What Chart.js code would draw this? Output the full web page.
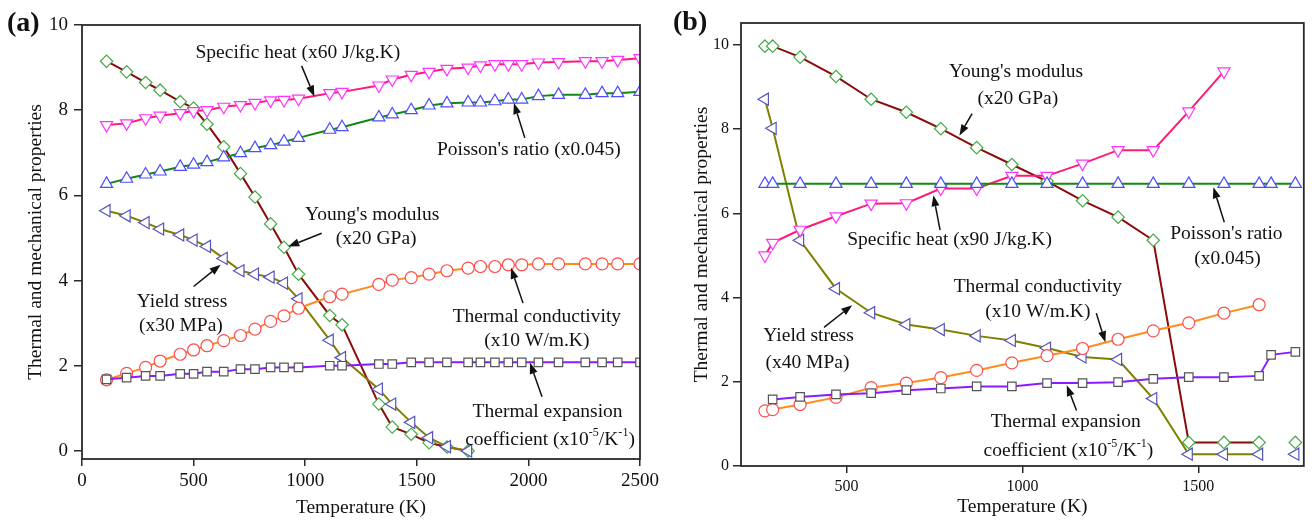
<!DOCTYPE html>
<html>
<head>
<meta charset="utf-8">
<script src="https://cdn.jsdelivr.net/npm/chart.js@4"></script>
<style>
  html, body { margin: 0; padding: 0; background: #fff; }
  #wrap { position: relative; width: 1312px; height: 520px; overflow: hidden; }
  canvas { position: absolute; top: 0; }
  #chartA { left: 0; }
  #chartB { left: 655px; }
</style>
</head>
<body>
<div id="wrap">
  <canvas id="chartA" width="662" height="520"></canvas>
  <canvas id="chartB" width="657" height="520"></canvas>
</div>
<script>
// ---- panel (a) data ----
const tempA = [110, 200, 285, 350, 440, 500, 560, 635, 710, 775, 845, 905, 970, 1110, 1165,
  1330, 1390, 1475, 1555, 1635, 1730, 1785, 1850, 1910, 1970, 2045, 2135, 2255, 2330, 2400, 2500];
const youngA = [9.15, 8.90, 8.65, 8.47, 8.20, 8.05, 7.67, 7.14, 6.51, 5.96, 5.33, 4.78, 4.15, 3.18, 2.96,
  1.10, 0.56, 0.39, 0.19, 0.09, 0.0];
const yieldA = [5.64, 5.52, 5.36, 5.21, 5.07, 4.95, 4.80, 4.52, 4.23, 4.15, 4.08, 3.94, 3.57, 2.60, 2.19,
  1.45, 1.10, 0.67, 0.31, 0.10, 0.0];
const heatA = [7.65, 7.69, 7.81, 7.87, 7.93, 7.98, 8.00, 8.08, 8.12, 8.17, 8.23, 8.24, 8.27, 8.40, 8.43,
  8.58, 8.72, 8.83, 8.90, 8.97, 9.00, 9.05, 9.08, 9.08, 9.08, 9.12, 9.13, 9.15, 9.15, 9.18, 9.22];
const poissonA = [6.27, 6.39, 6.49, 6.56, 6.67, 6.72, 6.78, 6.89, 6.99, 7.11, 7.18, 7.26, 7.35, 7.54, 7.60,
  7.83, 7.90, 8.00, 8.11, 8.16, 8.18, 8.18, 8.21, 8.25, 8.25, 8.33, 8.36, 8.36, 8.40, 8.40, 8.43];
const condA = [1.67, 1.82, 1.96, 2.11, 2.27, 2.37, 2.47, 2.59, 2.71, 2.86, 3.04, 3.17, 3.35, 3.62, 3.68,
  3.91, 4.01, 4.07, 4.15, 4.23, 4.29, 4.33, 4.33, 4.37, 4.37, 4.39, 4.39, 4.39, 4.39, 4.39, 4.39];
const expA = [1.68, 1.72, 1.76, 1.76, 1.81, 1.81, 1.86, 1.86, 1.92, 1.92, 1.96, 1.96, 1.96, 2.00, 2.00,
  2.04, 2.04, 2.08, 2.08, 2.08, 2.08, 2.08, 2.08, 2.08, 2.08, 2.08, 2.08, 2.08, 2.08, 2.08, 2.08];
const xTicksA = [0, 500, 1000, 1500, 2000, 2500];
const yTicksA = [0, 2, 4, 6, 8, 10];

// ---- panel (b) data ----
const tempB = [268, 290, 368, 470, 570, 670, 768, 870, 970, 1070, 1171, 1272, 1372, 1473, 1573, 1673, 1707, 1776];
const youngB = [9.97, 9.97, 9.71, 9.25, 8.71, 8.40, 8.01, 7.56, 7.16, 6.76, 6.30, 5.91, 5.36, 0.56, 0.56, 0.56];
const youngTailB = [0.56];   // lone point at 1776 K
const yieldB = [8.71, 8.02, 5.36, 4.21, 3.64, 3.36, 3.24, 3.09, 2.98, 2.80, 2.59, 2.53, 1.60, 0.28, 0.28, 0.28];
const yieldTailB = [0.28];
const heatB = [5.00, 5.30, 5.61, 5.93, 6.23, 6.24, 6.59, 6.59, 6.89, 6.89, 7.18, 7.50, 7.50, 8.42, 9.37];
const poissonB = [6.70, 6.70, 6.70, 6.70, 6.70, 6.70, 6.70, 6.70, 6.70, 6.70, 6.70, 6.70, 6.70, 6.70, 6.70, 6.70, 6.70, 6.70];
const condB = [1.31, 1.34, 1.46, 1.63, 1.86, 1.97, 2.10, 2.27, 2.45, 2.62, 2.79, 3.01, 3.21, 3.40, 3.63, 3.83];
const expB = [1.58, 1.64, 1.70, 1.73, 1.80, 1.84, 1.89, 1.89, 1.97, 1.97, 1.99, 2.07, 2.11, 2.11, 2.14, 2.64, 2.71];
const xTicksB = [500, 1000, 1500];
const yTicksB = [0, 2, 4, 6, 8, 10];

const SERIF = '"Liberation Serif", "Times New Roman", serif';

// zip x and y lists into {x, y} points
function pts(xs, ys) {
  return ys.map((v, i) => ({ x: xs[i], y: v }));
}

// one styled series: line colour + white-filled marker
function series(label, data, line, mark, style, rot, r) {
  return {
    label, data,
    borderColor: line, borderWidth: 2, tension: 0,
    pointStyle: style, pointRotation: rot || 0, pointRadius: r,
    pointBorderColor: mark, pointBackgroundColor: '#fff', pointBorderWidth: 1.2,
    pointHoverRadius: r
  };
}

const C = {
  young: ['#8B0A0A', '#44AA44'],
  yieldS: ['#808000', '#5555BB'],
  heat: ['#FF1A75', '#FF33FF'],
  poisson: ['#118811', '#4D4DFF'],
  cond: ['#FF8C1A', '#FF4D4D'],
  exp: ['#8A1AFF', '#555555']
};

// text labels and arrows, positioned in data units
const notesA = [
  { t: 'Specific heat (x60 J/kg.K)', x: 967, y: 9.34 },
  { t: "Poisson's ratio (x0.045)", x: 2002, y: 7.07 },
  { t: "Young's modulus", x: 1300, y: 5.54 },
  { t: '(x20 GPa)', x: 1318, y: 4.98 },
  { t: 'Yield stress', x: 448, y: 3.50 },
  { t: '(x30 MPa)', x: 443, y: 2.93 },
  { t: 'Thermal conductivity', x: 2038, y: 3.15 },
  { t: '(x10 W/m.K)', x: 2038, y: 2.58 },
  { t: 'Thermal expansion', x: 2086, y: 0.92 },
  { t: 'coefficient (x10^{-5}/K^{-1})', x: 2097, y: 0.27 }
];
const arrowsA = [
  [984, 9.04, 1041, 8.32],
  [1984, 7.35, 1935, 8.17],
  [1074, 5.11, 924, 4.80],
  [500, 3.86, 621, 4.37],
  [1976, 3.47, 1922, 4.30],
  [2061, 1.27, 2007, 2.07]
];
const notesB = [
  { t: "Young's modulus", x: 982, y: 9.35 },
  { t: '(x20 GPa)', x: 987, y: 8.73 },
  { t: 'Specific heat (x90 J/kg.K)', x: 793, y: 5.38 },
  { t: "Poisson's ratio", x: 1580, y: 5.52 },
  { t: '(x0.045)', x: 1583, y: 4.93 },
  { t: 'Yield stress', x: 392, y: 3.08 },
  { t: '(x40 MPa)', x: 389, y: 2.45 },
  { t: 'Thermal conductivity', x: 1044, y: 4.25 },
  { t: '(x10 W/m.K)', x: 1044, y: 3.67 },
  { t: 'Thermal expansion', x: 1123, y: 1.04 },
  { t: 'coefficient (x10^{-5}/K^{-1})', x: 1131, y: 0.37 }
];
const arrowsB = [
  [857, 8.37, 821, 7.85],
  [766, 5.60, 747, 6.43],
  [1574, 5.79, 1543, 6.62],
  [436, 3.29, 516, 3.82],
  [1210, 3.63, 1236, 2.94],
  [1154, 1.32, 1126, 1.92]
];

// text with ^{...} superscripts, centred on (cx, cy)
function drawRich(ctx, str, cx, cy, size) {
  const parts = str.split(/(\^\{[^}]*\})/).filter(Boolean).map(p =>
    p.startsWith('^{') ? { t: p.slice(2, -1), sup: true } : { t: p, sup: false });
  let w = 0;
  parts.forEach(p => {
    ctx.font = (p.sup ? size * 0.62 : size) + 'px ' + SERIF;
    p.w = ctx.measureText(p.t).width;
    w += p.w;
  });
  let x = cx - w / 2;
  parts.forEach(p => {
    ctx.font = (p.sup ? size * 0.62 : size) + 'px ' + SERIF;
    ctx.fillText(p.t, x, p.sup ? cy - size * 0.36 : cy);
    x += p.w;
  });
}

function drawArrow(ctx, x1, y1, x2, y2) {
  const a = Math.atan2(y2 - y1, x2 - x1), L = 11, W = 4;
  const bx = x2 - L * Math.cos(a), by = y2 - L * Math.sin(a);
  ctx.beginPath(); ctx.moveTo(x1, y1); ctx.lineTo(bx, by); ctx.stroke();
  ctx.beginPath(); ctx.moveTo(x2, y2);
  ctx.lineTo(bx + W * Math.sin(a), by - W * Math.cos(a));
  ctx.lineTo(bx - W * Math.sin(a), by + W * Math.cos(a));
  ctx.closePath(); ctx.fill();
}

// frame, panel letter, labels and arrows
const decor = {
  id: 'decor',
  afterDraw(chart, args, o) {
    const { ctx, chartArea: a, scales: { x, y } } = chart;
    ctx.save();
    ctx.strokeStyle = '#2a2a2a'; ctx.lineWidth = 1.8;
    ctx.strokeRect(a.left, a.top, a.right - a.left, a.bottom - a.top);
    ctx.fillStyle = '#111';
    ctx.textBaseline = 'middle'; ctx.textAlign = 'left';
    ctx.font = 'bold 28px ' + SERIF;
    ctx.fillText(o.letter, o.letterX, o.letterY);
    o.notes.forEach(n => drawRich(ctx, n.t, x.getPixelForValue(n.x), y.getPixelForValue(n.y), 19.5));
    ctx.strokeStyle = '#111'; ctx.lineWidth = 1.5;
    o.arrows.forEach(r => drawArrow(ctx,
      x.getPixelForValue(r[0]), y.getPixelForValue(r[1]),
      x.getPixelForValue(r[2]), y.getPixelForValue(r[3])));
    ctx.restore();
  }
};

function axes(o) {
  const tickFont = { family: SERIF, size: o.tickSize };
  const titleFont = { family: SERIF, size: 19.5 };
  return {
    x: {
      type: 'linear', min: o.xMin, max: o.xMax,
      afterBuildTicks: s => { s.ticks = o.xTicks.map(v => ({ value: v })); },
      afterFit: s => { s.height = o.xHeight; s.paddingLeft = 0; s.paddingRight = 0; },
      grid: { drawOnChartArea: false, color: '#2a2a2a', lineWidth: 1.5, tickLength: 7 },
      border: { display: false },
      ticks: { font: tickFont, color: '#111', padding: 4, maxRotation: 0, autoSkip: false,
        callback: v => String(v) },
      title: { display: true, text: 'Temperature (K)', font: titleFont, color: '#111',
        padding: { top: 0, bottom: o.xTitlePad } }
    },
    y: {
      type: 'linear', min: o.yMin, max: o.yMax,
      afterBuildTicks: s => { s.ticks = o.yTicks.map(v => ({ value: v })); },
      afterFit: s => { s.width = o.yWidth; s.paddingTop = 0; s.paddingBottom = 0; },
      grid: { drawOnChartArea: false, color: '#2a2a2a', lineWidth: 1.5, tickLength: 8 },
      border: { display: false },
      ticks: { font: tickFont, color: '#111', padding: o.yTickPad, callback: v => String(v) },
      title: { display: true, text: 'Thermal and mechanical properties', font: titleFont, color: '#111',
        padding: { top: o.yTitlePad, bottom: 0 } }
    }
  };
}

const common = {
  responsive: false,
  animation: false,
  events: [],
  plugins: { legend: { display: false }, tooltip: { enabled: false } }
};

// ---- panel (a) ----
new Chart(document.getElementById('chartA'), {
  type: 'line',
  data: {
    datasets: [
      series('Thermal expansion', pts(tempA, expA), C.exp[0], C.exp[1], 'rect', 0, 6),
      series('Thermal conductivity', pts(tempA, condA), C.cond[0], C.cond[1], 'circle', 0, 6),
      series('Poisson', pts(tempA, poissonA), C.poisson[0], C.poisson[1], 'triangle', 0, 7),
      series('Specific heat', pts(tempA, heatA), C.heat[0], C.heat[1], 'triangle', 180, 7),
      series('Yield stress', pts(tempA, yieldA), C.yieldS[0], C.yieldS[1], 'triangle', -90, 7),
      series("Young's modulus", pts(tempA, youngA), C.young[0], C.young[1], 'rectRot', 0, 6.2)
    ]
  },
  options: {
    ...common,
    layout: { padding: { left: 0, right: 22, top: 25, bottom: 0 } },
    scales: axes({ xMin: 0, xMax: 2500, yMin: -0.19, yMax: 10, xTicks: xTicksA, yTicks: yTicksA,
      xHeight: 61, yWidth: 82, tickSize: 19, yTickPad: 6, xTitlePad: 0, yTitlePad: 24 }),
    plugins: { ...common.plugins,
      decor: { letter: '(a)', letterX: 7, letterY: 24, notes: notesA, arrows: arrowsA } }
  },
  plugins: [decor]
});

// ---- panel (b) ----
new Chart(document.getElementById('chartB'), {
  type: 'line',
  data: {
    datasets: [
      series('Thermal expansion', pts(tempB.slice(1), expB), C.exp[0], C.exp[1], 'rect', 0, 6),
      series('Thermal conductivity', pts(tempB, condB), C.cond[0], C.cond[1], 'circle', 0, 6),
      series('Poisson', pts(tempB, poissonB), C.poisson[0], C.poisson[1], 'triangle', 0, 7),
      series('Specific heat', pts(tempB, heatB), C.heat[0], C.heat[1], 'triangle', 180, 7),
      series('Yield stress', pts(tempB, yieldB), C.yieldS[0], C.yieldS[1], 'triangle', -90, 7),
      { ...series('Yield stress tail', pts(tempB.slice(-1), yieldTailB), C.yieldS[0], C.yieldS[1], 'triangle', -90, 7), showLine: false },
      series("Young's modulus", pts(tempB, youngB), C.young[0], C.young[1], 'rectRot', 0, 6.2),
      { ...series("Young's tail", pts(tempB.slice(-1), youngTailB), C.young[0], C.young[1], 'rectRot', 0, 6.2), showLine: false }
    ]
  },
  options: {
    ...common,
    layout: { padding: { left: 0, right: 2, top: 23, bottom: 0 } },
    scales: axes({ xMin: 200, xMax: 1800, yMin: 0, yMax: 10.52, xTicks: xTicksB, yTicks: yTicksB,
      xHeight: 54, yWidth: 86, tickSize: 16, yTickPad: 4, xTitlePad: 1, yTitlePad: 35 }),
    plugins: { ...common.plugins,
      decor: { letter: '(b)', letterX: 18, letterY: 23, notes: notesB, arrows: arrowsB } }
  },
  plugins: [decor]
});
</script>
</body>
</html>
